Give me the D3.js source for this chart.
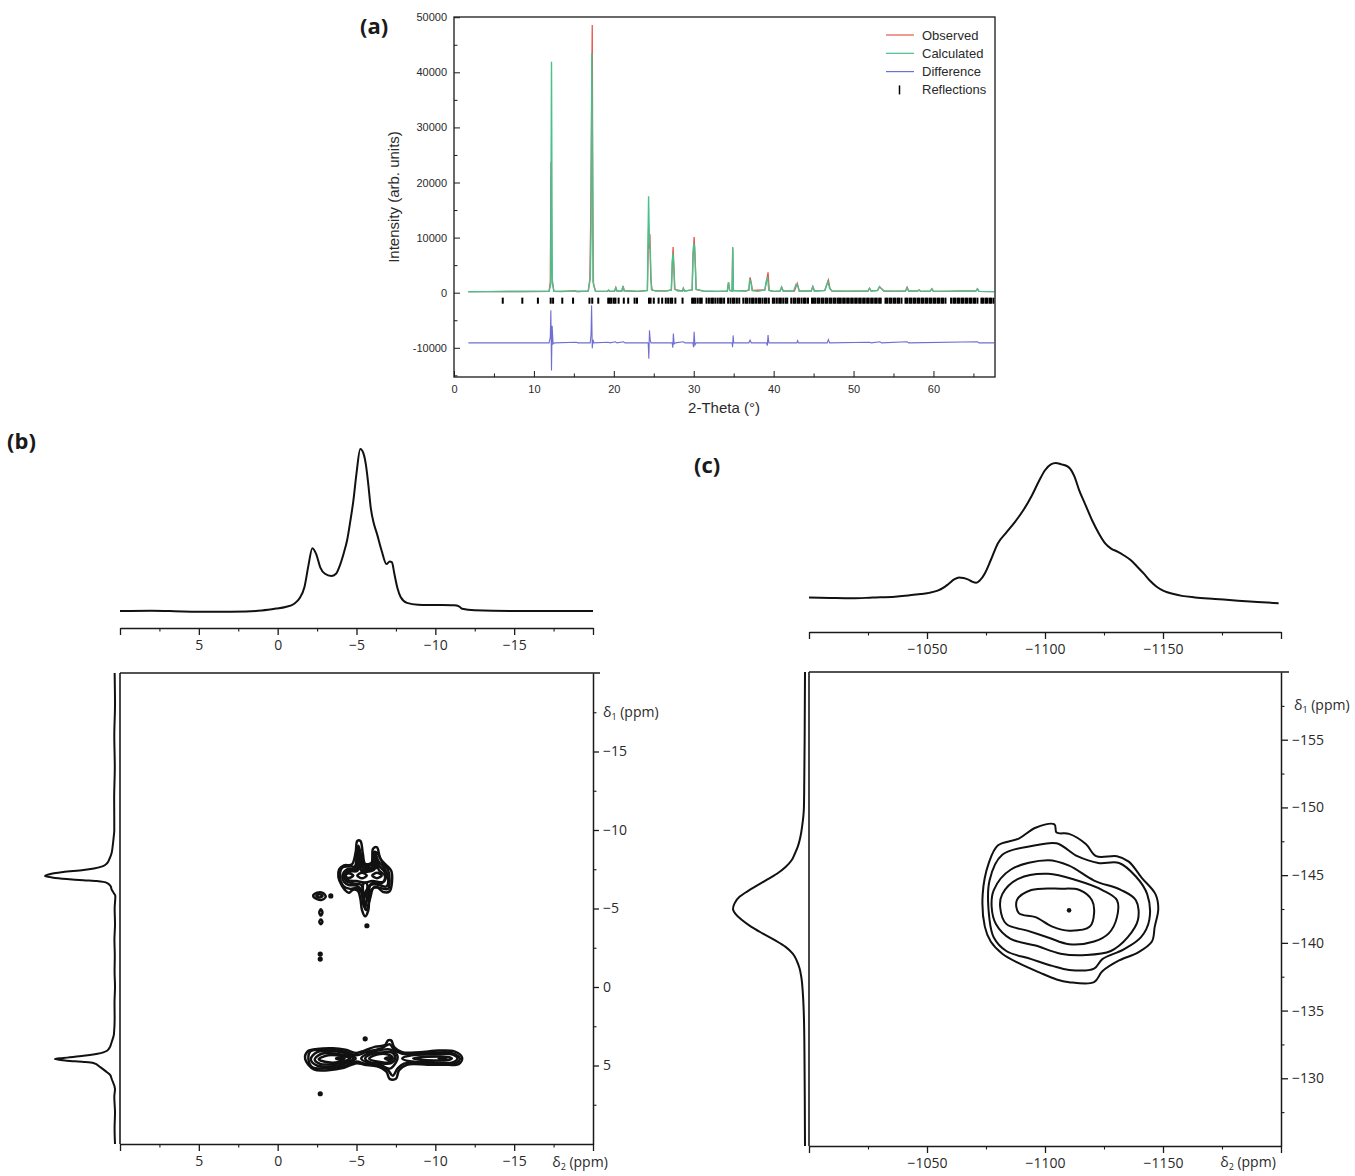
<!DOCTYPE html>
<html>
<head>
<meta charset="utf-8">
<script src="https://cdn.jsdelivr.net/npm/d3@7"></script>
<style>
body { margin: 0; background: #fff; }
svg { display: block; background: #fff; }
.axA text { font-family: "Liberation Sans", Arial, sans-serif; font-size: 11px; fill: #2a2a2a; }
.axN text { font-family: "Open Sans", sans-serif; font-size: 14px; fill: #2a2a2a; }
.ttl { font-family: "Liberation Sans", Arial, sans-serif; font-size: 15px; fill: #2a2a2a; }
.lg { font-family: "Liberation Sans", Arial, sans-serif; font-size: 13px; fill: #2a2a2a; }
.pl { font-family: "Open Sans", sans-serif; font-size: 22px; font-weight: bold; fill: #1a1a1a; }
.dl { font-family: "Open Sans", sans-serif; font-size: 14px; fill: #2a2a2a; }
</style>
</head>
<body>
<div id="chart"></div>
<script>
// ---------- (a) powder pattern: [2-theta, intensity] ----------
var xrdObs = [
  [1.8,180],[4,210],[8,220],[11.9,240],[12.05,2000],[12.14,23700],[12.24,3000],[12.5,260],
  [13.5,230],[15.2,330],[15.4,220],[16.8,300],[17.0,2500],[17.1,12600],[17.2,30000],[17.3,48600],[17.4,2000],[17.7,280],
  [19.2,250],[19.35,450],[19.5,250],[20.1,300],[20.25,950],[20.4,300],[21.0,300],[21.15,1250],[21.3,350],[23,250],
  [24.2,400],[24.35,12000],[24.45,8000],[24.52,10600],[24.62,2500],[24.8,400],[26.5,280],
  [27.2,500],[27.32,5000],[27.42,8300],[27.52,4500],[27.65,600],[28.6,300],[28.7,800],[28.85,300],
  [29.8,500],[29.92,6500],[30.05,10100],[30.15,7000],[30.3,600],[31.2,300],[33,250],
  [34.2,300],[34.35,1900],[34.5,400],[34.8,300],[34.88,8000],[34.96,400],[36.5,300],
  [36.9,500],[37.05,2800],[37.2,1800],[37.35,400],[38.9,500],[39.15,2400],[39.3,3700],[39.45,400],[40,250],
  [40.8,300],[41.0,1000],[41.2,300],[42.6,300],[42.95,1700],[43.2,300],[44.7,300],[44.9,1100],[45.1,300],
  [46.4,400],[46.6,1300],[46.85,2300],[47.05,800],[47.3,300],[51.8,300],[52.0,800],[52.2,300],[53,400],[53.25,1100],[53.5,700],[53.8,300],
  [56.5,300],[56.7,1000],[56.9,300],[58,300],[58.2,500],[58.4,250],[59.6,300],[59.8,700],[60,250],[63,300],
  [65.3,300],[65.5,700],[65.7,250],[67.6,200]
];
var xrdCalc = [
  [1.8,180],[4,200],[8,220],[11.9,240],[12.1,1500],[12.2,41900],[12.3,1800],[12.5,260],
  [13.5,230],[15.2,330],[15.4,220],[16.8,300],[17.05,2500],[17.15,11000],[17.25,43500],[17.35,20000],[17.45,1500],[17.7,280],
  [19.2,250],[19.35,450],[19.5,250],[20.1,300],[20.25,900],[20.4,300],[21.0,300],[21.15,1200],[21.3,350],[23,250],
  [24.2,400],[24.35,17500],[24.45,9000],[24.55,8000],[24.7,600],[25.2,300],[26.5,280],
  [27.2,500],[27.3,5500],[27.4,7100],[27.5,5200],[27.6,700],[28,300],[28.6,300],[28.7,800],[28.85,300],
  [29.8,500],[29.9,7000],[30.0,8900],[30.1,8300],[30.2,5000],[30.3,600],[31.2,300],[33,250],
  [34.2,300],[34.35,1900],[34.5,400],[34.8,300],[34.88,8300],[34.96,400],[36.5,300],
  [36.9,500],[37.0,2300],[37.15,2000],[37.3,400],[38,250],[38.9,500],[39.1,2200],[39.25,2600],[39.4,400],[40,250],
  [40.8,300],[41.0,1000],[41.2,300],[42.5,300],[42.8,1500],[43.0,1400],[43.2,300],[44.7,300],[44.9,1100],[45.1,300],
  [46.4,400],[46.6,1200],[46.8,2000],[47.0,800],[47.3,300],[49,250],[51.8,300],[52.0,800],[52.2,300],[53,400],[53.25,1100],[53.5,700],[53.8,300],
  [55,250],[56.5,300],[56.7,900],[56.9,300],[58,300],[58.2,500],[58.4,250],[59.6,300],[59.8,700],[60,250],[62,250],[63,300],
  [65.3,300],[65.5,700],[65.7,250],[67.6,200]
];
var xrdDiff = [
  [1.8,-9100],[11.9,-9100],[12.05,-8000],[12.12,-3200],[12.2,-14100],[12.28,-6000],[12.4,-9300],[12.6,-9100],
  [15.3,-9000],[15.5,-9100],[17.05,-9100],[17.15,-7500],[17.22,-2300],[17.3,-10100],[17.4,-8500],[17.5,-9100],
  [19.3,-9000],[19.5,-9100],[20.2,-8900],[20.4,-9100],[21.2,-8900],[21.4,-9100],
  [24.3,-9100],[24.38,-12000],[24.46,-6800],[24.55,-8500],[24.65,-9100],
  [27.3,-9100],[27.38,-10000],[27.45,-7400],[27.55,-9300],[27.7,-9100],[28.7,-8900],[28.9,-9100],
  [29.9,-9100],[29.97,-9900],[30.05,-7100],[30.15,-9500],[30.3,-9100],
  [34.8,-9100],[34.86,-9900],[34.93,-7750],[35.0,-9100],
  [36.9,-9100],[37.05,-8600],[37.2,-9100],
  [39.1,-9100],[39.2,-9600],[39.3,-7700],[39.4,-9100],
  [42.9,-9100],[43.0,-8700],[43.1,-9100],[46.7,-9100],[46.85,-8500],[47.0,-9100],
  [52,-9000],[52.2,-9100],[53.3,-8900],[53.5,-9100],[56.7,-8900],[56.9,-9100],[65.5,-8900],[65.7,-9100],[67.6,-9100]
];
var reflections = [6.1, 8.55, 10.5, 12.1, 12.4, 13.55, 14.9, 16.95, 17.3, 18.05, 19.3, 19.5, 19.7, 20.0, 20.2, 20.6,
  21.25, 21.8, 22.6, 22.9, 24.4, 24.6, 25.0, 25.6, 26.05, 26.5, 26.8, 27.1, 27.3, 27.7, 28.6, 29.8, 30.0, 30.2, 30.5,
  30.8, 31.0, 31.6, 31.9, 32.2, 32.4, 32.7, 33.0, 33.3, 33.5, 33.8, 34.3, 34.6, 34.9, 35.1, 35.4, 35.7, 36.2, 36.5,
  36.7, 37.0, 37.3, 37.5, 37.8, 38.1, 38.3, 38.6, 38.9, 39.1, 39.4, 39.9, 40.1, 40.4, 40.7, 40.9, 41.2, 41.5, 41.7,
  42.2, 42.5, 42.7, 43.0, 43.2, 43.5, 43.8, 44.0, 44.3, 44.8, 45.0, 45.2, 45.5, 45.7, 46.0, 46.2, 46.5, 46.7, 47.0,
  47.2, 47.5, 47.7, 48.0, 48.2, 48.4, 48.7, 48.9, 49.2, 49.4, 49.7, 49.9, 50.2, 50.4, 50.7, 50.9, 51.2, 51.4, 51.7,
  51.9, 52.2, 52.4, 52.7, 52.9, 53.2, 53.4, 54.0, 54.2, 54.5, 54.7, 55.0, 55.2, 55.5, 55.7, 56.0, 56.5, 56.7, 57.0,
  57.2, 57.5, 57.7, 58.0, 58.2, 58.5, 58.7, 59.0, 59.2, 59.5, 59.7, 60.0, 60.2, 60.5, 60.7, 61.0, 61.2, 61.5, 62.2,
  62.5, 62.7, 63.0, 63.2, 63.5, 63.7, 64.0, 64.2, 64.5, 64.7, 65.0, 65.2, 65.5, 66.0, 66.2, 66.5, 66.7, 67.0, 67.2, 67.5];
var reflBand = [-900, -2000];
var xTicksA = [0, 10, 20, 30, 40, 50, 60];
var xMinorA = [5, 15, 25, 35, 45, 55, 65];
var yTicksA = [-10000, 0, 10000, 20000, 30000, 40000, 50000];
var yMinorA = [-15000, -5000, 5000, 15000, 25000, 35000, 45000];
var legendNames = ["Observed", "Calculated", "Difference", "Reflections"];
var legendColors = ["#e5574b", "#49c08e", "#6f6fd2", "#111"];

// ---------- (b) 1H spectra: [ppm, intensity] ----------
var topB = [
  [10,0],[8,0.2],[6,-0.3],[4,-0.5],[2,-0.3],[1,0.3],[0.1,1.5],[-0.5,2.5],[-1.05,4.5],[-1.4,8],[-1.7,14.8],[-1.95,28],
  [-2.2,38.8],[-2.45,35],[-2.7,27],[-3.0,23],[-3.4,21.6],[-3.7,23],[-3.9,27],[-4.2,36],[-4.4,43.5],[-4.6,55],[-4.8,68],
  [-5.0,85],[-5.24,100],[-5.45,97],[-5.6,90],[-5.75,78],[-5.9,64],[-6.1,54],[-6.3,47.6],[-6.6,37],[-6.9,29],[-7.1,30.5],
  [-7.25,30],[-7.4,23],[-7.6,14],[-7.8,8.6],[-8.2,5],[-8.9,3.9],[-10,3.7],[-11.2,3.5],[-11.5,2.8],[-11.7,1.4],
  [-12.5,0.4],[-15,0],[-20,0]
];
var projB = [
  [-20,0.5],[-18,0],[-16,1],[-14,0.3],[-12,1.2],[-10,1],[-9.5,2],[-8.98,3.3],[-8.5,5],[-8.15,8],[-7.9,11],[-7.7,17],
  [-7.55,30],[-7.45,45],[-7.32,74],[-7.15,96],[-7.07,100],[-6.98,90],[-6.88,69],[-6.8,45],[-6.75,26],[-6.62,11],
  [-6.4,6],[-6.24,5],[-6.0,2],[-5.8,-0.5],[-5,0.5],[-4,0],[-3,0.8],[-2,0.3],[-1,0.6],[0,0],[1,0.7],[2,0.5],[3,1.5],
  [3.5,4.7],[3.8,7],[4.06,11.4],[4.25,25],[4.38,45],[4.52,74],[4.59,86],[4.69,69],[4.77,45],[4.84,31],[5.1,21],
  [5.41,12],[5.6,7],[5.86,4.7],[6.5,0],[7,1],[8,0],[9,0.6],[10,0]
];
// contour rings [delta2, delta1]
var contoursB = [
  [[-1.75,4.6],[-1.9,4.1],[-2.5,3.95],[-3.5,3.9],[-4.3,4.0],[-5.0,4.2],[-5.5,4.05],[-6.2,3.8],[-6.8,3.7],[-7.0,3.4],
   [-7.2,3.4],[-7.4,3.85],[-7.9,4.15],[-9.0,4.15],[-10.2,4.05],[-11.2,4.1],[-11.7,4.5],[-11.5,4.9],[-10.5,4.95],
   [-9.5,4.95],[-8.2,4.95],[-7.7,5.3],[-7.5,5.85],[-7.1,5.85],[-6.9,5.4],[-6.3,5.05],[-5.5,4.95],[-5.0,4.85],
   [-4.2,5.15],[-3.2,5.3],[-2.3,5.25]],
  [[-1.95,4.6],[-2.1,4.08],[-3.0,4.0],[-4.2,4.1],[-5.0,4.35],[-5.6,4.15],[-6.6,3.9],[-7.1,3.65],[-7.4,4.0],[-7.9,4.25],
   [-9.5,4.22],[-11.0,4.2],[-11.55,4.55],[-11.3,4.85],[-9.5,4.88],[-8.0,4.88],[-7.6,5.2],[-7.3,5.65],[-7.0,5.3],
   [-6.4,4.98],[-5.5,4.88],[-5.0,4.75],[-4.2,5.05],[-3.0,5.18],[-2.2,5.12]],
  [[-2.1,4.6],[-2.5,4.15],[-3.5,4.1],[-4.4,4.25],[-4.95,4.55],[-4.4,4.85],[-3.5,5.05],[-2.5,5.0]],
  [[-2.35,4.6],[-2.8,4.25],[-3.7,4.25],[-4.5,4.4],[-4.8,4.55],[-4.3,4.8],[-3.4,4.92],[-2.7,4.9]],
  [[-2.6,4.6],[-3.2,4.35],[-4.1,4.4],[-4.6,4.55],[-4.1,4.75],[-3.2,4.8]],
  [[-3.7,4.55],[-4.0,4.48],[-4.25,4.56],[-4.0,4.64]],
  [[-5.3,4.55],[-5.8,4.2],[-6.6,4.0],[-7.2,4.0],[-7.6,4.4],[-7.5,4.8],[-7.1,5.2],[-6.5,4.95],[-5.8,4.85]],
  [[-5.55,4.55],[-6.0,4.25],[-6.8,4.15],[-7.3,4.2],[-7.45,4.55],[-7.2,4.85],[-6.4,4.85],[-5.9,4.8]],
  [[-5.8,4.55],[-6.3,4.3],[-7.0,4.3],[-7.3,4.55],[-7.0,4.8],[-6.3,4.75]],
  [[-6.8,4.55],[-7.05,4.47],[-7.25,4.55],[-7.05,4.63]],
  [[-7.9,4.55],[-8.5,4.35],[-9.8,4.3],[-11.1,4.3],[-11.4,4.55],[-11.1,4.8],[-9.8,4.8],[-8.5,4.75]],
  [[-8.6,4.55],[-9.5,4.45],[-10.8,4.45],[-11.05,4.55],[-10.8,4.65],[-9.5,4.66]],
  [[-10.2,4.55],[-10.5,4.5],[-10.7,4.56],[-10.45,4.62]],
  [[-3.85,-7.0],[-3.9,-7.5],[-4.2,-7.75],[-4.7,-7.8],[-4.95,-8.6],[-5.05,-9.3],[-5.25,-9.3],[-5.4,-8.5],[-5.55,-7.85],
   [-5.95,-7.9],[-6.05,-8.8],[-6.3,-8.9],[-6.5,-8.2],[-6.85,-7.8],[-7.2,-7.4],[-7.25,-6.7],[-7.1,-6.1],[-6.7,-6.05],
   [-6.3,-6.35],[-5.95,-6.2],[-5.8,-5.5],[-5.75,-4.9],[-5.55,-4.5],[-5.35,-4.9],[-5.25,-5.6],[-5.1,-6.1],[-4.8,-6.2],
   [-4.5,-6.0],[-4.25,-6.2],[-4.05,-6.5]],
  [[-3.95,-7.02],[-4.1,-7.6],[-4.5,-7.68],[-4.95,-7.7],[-5.0,-8.5],[-5.12,-9.0],[-5.3,-8.3],[-5.5,-7.75],[-5.95,-7.78],
   [-6.1,-8.6],[-6.35,-8.5],[-6.65,-7.9],[-7.0,-7.45],[-7.1,-6.8],[-7.0,-6.25],[-6.5,-6.3],[-6.1,-6.35],[-5.85,-5.6],
   [-5.62,-4.9],[-5.42,-5.3],[-5.3,-6.05],[-5.0,-6.3],[-4.6,-6.25],[-4.15,-6.45]],
  [[-4.1,-7.05],[-4.4,-7.5],[-4.85,-7.55],[-5.05,-8.4],[-5.2,-8.7],[-5.3,-8.0],[-5.5,-7.6],[-6.0,-7.65],[-6.2,-8.4],
   [-6.4,-8.0],[-6.8,-7.5],[-7.0,-7.0],[-6.9,-6.4],[-6.4,-6.5],[-5.9,-6.5],[-5.7,-5.6],[-5.5,-5.3],[-5.4,-6.0],
   [-5.0,-6.45],[-4.5,-6.5],[-4.2,-6.7]],
  [[-4.2,-7.05],[-4.5,-7.42],[-4.95,-7.48],[-5.12,-8.3],[-5.25,-8.35],[-5.4,-7.5],[-6.05,-7.55],[-6.22,-8.15],
   [-6.45,-7.7],[-6.8,-7.3],[-6.85,-6.9],[-6.6,-6.6],[-6.0,-6.62],[-5.6,-6.1],[-5.48,-5.6],[-5.3,-6.5],[-4.8,-6.6],
   [-4.35,-6.75]],
  [[-4.3,-7.05],[-4.6,-7.35],[-5.05,-7.4],[-5.2,-8.1],[-5.3,-7.4],[-6.1,-7.45],[-6.25,-7.9],[-6.45,-7.4],[-6.8,-7.1],
   [-6.7,-6.7],[-6.0,-6.75],[-5.5,-6.65],[-5.0,-6.75],[-4.5,-6.8]],
  [[-4.25,-7.1],[-4.5,-7.25],[-4.8,-7.1],[-4.5,-6.95]],
  [[-5.05,-7.1],[-5.35,-7.28],[-5.65,-7.1],[-5.35,-6.92]],
  [[-6.0,-7.1],[-6.3,-7.27],[-6.6,-7.1],[-6.3,-6.93]],
  [[-5.1,-7.6],[-5.15,-8.9],[-5.2,-7.6]],
  [[-6.1,-7.6],[-6.2,-8.6],[-6.3,-7.6]],
  [[-5.45,-6.6],[-5.55,-5.0],[-5.65,-6.6]],
  [[-2.25,-5.8],[-2.5,-5.6],[-2.8,-5.55],[-3.05,-5.75],[-2.85,-6.0],[-2.5,-6.0]],
  [[-2.45,-5.8],[-2.65,-5.7],[-2.85,-5.8],[-2.65,-5.9]],
  [[-2.64,-4.75],[-2.74,-4.95],[-2.84,-4.75],[-2.74,-4.55]],
  [[-2.64,-4.15],[-2.74,-4.3],[-2.84,-4.15],[-2.74,-4.0]]
];
var dotsB = [[-3.37,-5.8],[-2.7,-2.1],[-2.7,-1.78],[-5.66,-3.9],[-5.55,3.3],[-2.7,6.8]];
var majorB = [10, 5, 0, -5, -10, -15, -20];
var minorB = [7.5, 2.5, -2.5, -7.5, -12.5, -17.5];
var rightMajorB = [-15, -10, -5, 0, 5];
var rightMinorB = [-17.5, -12.5, -7.5, -2.5, 2.5, 7.5];

// ---------- (c) 29Si spectra ----------
var topC = [
  [-1000,1.9],[-1009,1.5],[-1018.2,1.2],[-1027,1.8],[-1036.4,2.4],[-1042,3.2],[-1047.3,4.4],[-1051,5.2],[-1054.5,6.8],
  [-1057,9],[-1059.1,11.7],[-1061.5,15],[-1063.6,16.5],[-1065.5,16],[-1067.3,15],[-1069,13.5],[-1070.9,12.6],
  [-1072.5,14.5],[-1074.5,19.4],[-1077,29],[-1080,41.3],[-1083.5,49],[-1087.3,57],[-1091,66],[-1094.5,76.5],
  [-1097.5,87],[-1100,94.7],[-1102.5,99],[-1104.5,100],[-1107,99],[-1110,97],[-1112.5,90],[-1114.5,80],[-1117,70],
  [-1120,58],[-1123,48],[-1125.5,41.3],[-1128,37.5],[-1130.9,35.2],[-1133.5,32.5],[-1136.4,29],[-1139,24.5],
  [-1141.8,19.4],[-1144.5,14],[-1147.3,9.7],[-1150.5,6.5],[-1154.5,4.4],[-1158,3],[-1163.6,1.9],[-1172,0.8],
  [-1181.8,-0.5],[-1190,-1.4],[-1199,-2.4]
];
var projC = [
  [-160,0],[-157,0.3],[-155,0.5],[-152,1],[-150,1.5],[-148.6,4],[-147.8,6.5],[-147.1,10],[-146.6,14],[-146.1,18.6],
  [-145.6,27],[-145.1,39],[-144.6,55],[-144.1,71],[-143.7,83],[-143.4,91],[-142.9,98],[-142.5,100],[-142.1,96],
  [-141.7,88],[-141.2,75],[-140.7,59],[-140.2,42],[-139.7,27],[-139.2,17],[-138.7,11.6],[-138.1,7.5],[-137.5,5.2],
  [-136.2,2.9],[-135,1.8],[-133.8,1.2],[-130,0.5],[-125,0]
];
var contoursC = [
  [[-1088.1,-143.15],[-1094.2,-143.9],[-1106.6,-144.0],[-1114.6,-143.9],[-1119.9,-143.15],[-1120.8,-142.2],
   [-1119,-141.2],[-1110.2,-140.9],[-1103.1,-141.2],[-1096,-141.9],[-1088.9,-142.2]],
  [[-1081.9,-143.6],[-1088.9,-144.75],[-1101.3,-145.1],[-1113.7,-144.6],[-1124.3,-143.9],[-1130.5,-143.15],
   [-1130.5,-141.9],[-1127,-140.7],[-1120.8,-140.1],[-1110.2,-139.9],[-1101.3,-140.4],[-1092.5,-140.9],
   [-1083.6,-141.4],[-1081,-142.65]],
  [[-1078.3,-143.9],[-1085.4,-145.4],[-1101.3,-146.1],[-1110.2,-145.7],[-1120.8,-144.6],[-1132.3,-143.9],
   [-1138.5,-143.15],[-1139.4,-141.7],[-1135,-140.4],[-1127.9,-139.4],[-1117.3,-139.1],[-1106.6,-139.2],
   [-1096,-139.8],[-1085.4,-140.3],[-1079.2,-141.4],[-1077.4,-142.65]],
  [[-1076.5,-144.6],[-1081.9,-146.5],[-1096,-147.2],[-1104.9,-147.35],[-1113.7,-146.4],[-1122.6,-145.9],
   [-1131.4,-145.9],[-1138.5,-144.9],[-1143.3,-143.6],[-1144.2,-141.7],[-1140.6,-140.4],[-1133.2,-139.5],
   [-1124.3,-138.8],[-1120.8,-138.1],[-1110.2,-138],[-1103.1,-138.3],[-1094.2,-138.8],[-1083.6,-139.4],
   [-1078.3,-140.4],[-1076.5,-141.7]],
  [[-1073.6,-143.6],[-1076.2,-145.9],[-1080.1,-147.2],[-1088.9,-147.7],[-1096,-148.5],[-1104,-148.75],
   [-1104.9,-148.15],[-1110.2,-148.05],[-1117.3,-147.3],[-1121.7,-146.4],[-1130.5,-146.4],[-1135.5,-146],
   [-1141,-144.8],[-1146.8,-143.6],[-1148,-142.5],[-1146.5,-141.2],[-1145.3,-140.1],[-1139.5,-139.3],
   [-1131.4,-138.7],[-1124.3,-137.9],[-1120.8,-137.1],[-1110.2,-137.1],[-1104.9,-137.3],[-1097.8,-137.8],
   [-1088.9,-138.5],[-1081.9,-139.2],[-1077,-140.1],[-1074.5,-141.2]]
];
var dotsC = [[-1110.2,-142.4]];
var majorC = [-1000, -1050, -1100, -1150, -1200];
var minorC = [-1025, -1075, -1125, -1175];
var rightMajorC = [-155, -150, -145, -140, -135, -130];
var rightMinorC = [-157.5, -152.5, -147.5, -142.5, -137.5, -132.5, -127.5];

var svg = d3.select("#chart").append("svg")
    .attr("width", 1355)
    .attr("height", 1176);

var ink = "#1a1a1a";
var minus = function(d) { return String(d).replace("-", "\u2212"); };

// ======================= panel (a) =======================
var xA = d3.scaleLinear().domain([0, 67.7]).range([454, 995]);
var yA = d3.scaleLinear().domain([-15300, 50040]).range([377, 17]);
var gA = svg.append("g");

gA.append("path").datum(xrdObs)
    .attr("fill", "none").attr("stroke", legendColors[0]).attr("stroke-width", 1.3)
    .attr("d", d3.line().x(function(d) { return xA(d[0]); }).y(function(d) { return yA(d[1]); }));
gA.append("path").datum(xrdCalc)
    .attr("fill", "none").attr("stroke", legendColors[1]).attr("stroke-width", 1.4)
    .attr("d", d3.line().x(function(d) { return xA(d[0]); }).y(function(d) { return yA(d[1]); }));
gA.append("path").datum(xrdDiff)
    .attr("fill", "none").attr("stroke", legendColors[2]).attr("stroke-width", 1.1)
    .attr("d", d3.line().x(function(d) { return xA(d[0]); }).y(function(d) { return yA(d[1]); }));
gA.append("g").selectAll("line").data(reflections).enter().append("line")
    .attr("x1", function(d) { return xA(d); }).attr("x2", function(d) { return xA(d); })
    .attr("y1", yA(reflBand[0])).attr("y2", yA(reflBand[1]))
    .attr("stroke", "#000").attr("stroke-width", 2);

gA.append("rect")
    .attr("x", xA(0)).attr("y", yA.range()[1])
    .attr("width", xA.range()[1] - xA(0)).attr("height", yA.range()[0] - yA.range()[1])
    .attr("fill", "none").attr("stroke", ink).attr("stroke-width", 1.3);

gA.append("g").attr("class", "axA").attr("color", ink)
    .attr("transform", "translate(0," + yA.range()[0] + ")")
    .call(d3.axisBottom(xA).tickValues(xTicksA).tickSize(-6).tickPadding(8).tickFormat(d3.format("d")))
    .call(function(g) { g.select(".domain").remove(); });
gA.append("g").attr("color", ink)
    .attr("transform", "translate(0," + yA.range()[0] + ")")
    .call(d3.axisBottom(xA).tickValues(xMinorA).tickSize(-3.5).tickFormat(""))
    .call(function(g) { g.select(".domain").remove(); });
gA.append("g").attr("class", "axA").attr("color", ink)
    .attr("transform", "translate(" + xA(0) + ",0)")
    .call(d3.axisLeft(yA).tickValues(yTicksA).tickSize(-6).tickPadding(7).tickFormat(function(d) { return String(d); }))
    .call(function(g) { g.select(".domain").remove(); });
gA.append("g").attr("color", ink)
    .attr("transform", "translate(" + xA(0) + ",0)")
    .call(d3.axisLeft(yA).tickValues(yMinorA).tickSize(-3.5).tickFormat(""))
    .call(function(g) { g.select(".domain").remove(); });

gA.append("text").attr("class", "ttl")
    .attr("transform", "translate(399,197) rotate(-90)")
    .attr("text-anchor", "middle")
    .text("Intensity (arb. units)");
gA.append("text").attr("class", "ttl")
    .attr("x", 724).attr("y", 413)
    .attr("text-anchor", "middle")
    .text("2-Theta (\u00b0)");
gA.append("text").attr("class", "pl").attr("x", 360).attr("y", 34).text("(a)");

var lg = gA.append("g").selectAll("g").data(legendNames).enter().append("g")
    .attr("transform", function(d, i) { return "translate(0," + (35 + i * 18.3) + ")"; });
lg.filter(function(d, i) { return i < 3; }).append("line")
    .attr("x1", 886).attr("x2", 914).attr("y1", 0).attr("y2", 0)
    .attr("stroke", function(d, i) { return legendColors[i]; }).attr("stroke-width", 1.2);
lg.filter(function(d, i) { return i === 3; }).append("line")
    .attr("x1", 899.5).attr("x2", 899.5).attr("y1", -4.5).attr("y2", 4.5)
    .attr("stroke", "#000").attr("stroke-width", 1.5);
lg.append("text").attr("class", "lg")
    .attr("x", 922).attr("y", 0).attr("dy", "0.35em")
    .text(function(d) { return d; });

// ======================= helpers for NMR panels =======================
function nmrAxis(g, scale, major, minor, labelled, orient, len) {
    var mk = orient === "right" ? d3.axisRight : d3.axisBottom;
    g.append("g").attr("class", "axN").attr("color", ink)
        .call(mk(scale).tickValues(major).tickSize(len).tickSizeOuter(0).tickPadding(orient === "right" ? 4 : 5)
            .tickFormat(function(d) { return labelled.indexOf(d) >= 0 ? minus(d) : ""; }))
        .call(function(s) { s.select(".domain").attr("stroke-width", 1.5); s.selectAll(".tick line").attr("stroke-width", 1.3); });
    g.append("g").attr("color", ink)
        .call(mk(scale).tickValues(minor).tickSize(3.5).tickSizeOuter(0).tickFormat(""))
        .call(function(s) { s.select(".domain").remove(); s.selectAll(".tick line").attr("stroke-width", 1.1); });
}
function deltaLabel(g, x, y, anchor, sub) {
    var t = g.append("text").attr("class", "dl").attr("x", x).attr("y", y).attr("text-anchor", anchor);
    t.append("tspan").text("\u03b4");
    t.append("tspan").attr("font-size", "9px").attr("dy", 3).text(sub);
    t.append("tspan").attr("dy", -3).text(" (ppm)");
}

// ======================= panel (b) =======================
var xB = d3.scaleLinear().domain([10, -20]).range([120, 593]);
var yB = d3.scaleLinear().domain([10, -20]).range([1144, 673]);
var yBt = d3.scaleLinear().domain([0, 100]).range([611, 449]);
var xBl = d3.scaleLinear().domain([0, 100]).range([115, 45]);
var gB = svg.append("g");

gB.append("text").attr("class", "pl").attr("x", 7).attr("y", 449).text("(b)");

gB.append("path").datum(topB)
    .attr("fill", "none").attr("stroke", "#111").attr("stroke-width", 2)
    .attr("d", d3.line().x(function(d) { return xB(d[0]); }).y(function(d) { return yBt(d[1]); }).curve(d3.curveMonotoneX));
nmrAxis(gB.append("g").attr("transform", "translate(0,628)"), xB, majorB, minorB, [5, 0, -5, -10, -15], "bottom", 7);

gB.append("path").datum(projB)
    .attr("fill", "none").attr("stroke", "#111").attr("stroke-width", 2)
    .attr("d", d3.line().x(function(d) { return xBl(d[1]); }).y(function(d) { return yB(d[0]); }).curve(d3.curveMonotoneY));

// frame: left and top edges
gB.append("line").attr("x1", xB(10)).attr("x2", xB(10)).attr("y1", yB(-20)).attr("y2", yB(10))
    .attr("stroke", ink).attr("stroke-width", 1.6);
gB.append("line").attr("x1", xB(10)).attr("x2", xB(-20) + 7).attr("y1", yB(-20)).attr("y2", yB(-20))
    .attr("stroke", ink).attr("stroke-width", 1.6);
nmrAxis(gB.append("g").attr("transform", "translate(0," + yB(10) + ")"), xB, majorB, minorB, [5, 0, -5, -10, -15], "bottom", 7);
nmrAxis(gB.append("g").attr("transform", "translate(" + xB(-20) + ",0)"), yB, rightMajorB, rightMinorB, rightMajorB, "right", 6);
deltaLabel(gB, xB(-20) + 10, yB(-17.5) + 5, "start", "1");
deltaLabel(gB, 580, 1167, "middle", "2");

gB.append("g").selectAll("path").data(contoursB).enter().append("path")
    .attr("fill", "none").attr("stroke", "#111").attr("stroke-width", 2.5)
    .attr("d", d3.line().x(function(d) { return xB(d[0]); }).y(function(d) { return yB(d[1]); }).curve(d3.curveCatmullRomClosed.alpha(0.5)));
gB.append("g").selectAll("circle").data(dotsB).enter().append("circle")
    .attr("cx", function(d) { return xB(d[0]); }).attr("cy", function(d) { return yB(d[1]); })
    .attr("r", 2.6).attr("fill", "#111");

// ======================= panel (c) =======================
var xC = d3.scaleLinear().domain([-1000, -1200]).range([809, 1281]);
var yC = d3.scaleLinear().domain([-125, -160]).range([1146, 672]);
var yCt = d3.scaleLinear().domain([0, 100]).range([600, 463]);
var xCl = d3.scaleLinear().domain([0, 100]).range([805, 733]);
var gC = svg.append("g");

gC.append("text").attr("class", "pl").attr("x", 694).attr("y", 473).text("(c)");

gC.append("path").datum(topC)
    .attr("fill", "none").attr("stroke", "#111").attr("stroke-width", 2)
    .attr("d", d3.line().x(function(d) { return xC(d[0]); }).y(function(d) { return yCt(d[1]); }).curve(d3.curveMonotoneX));
nmrAxis(gC.append("g").attr("transform", "translate(0,632)"), xC, majorC, minorC, [-1050, -1100, -1150], "bottom", 7);

gC.append("path").datum(projC)
    .attr("fill", "none").attr("stroke", "#111").attr("stroke-width", 2)
    .attr("d", d3.line().x(function(d) { return xCl(d[1]); }).y(function(d) { return yC(d[0]); }).curve(d3.curveMonotoneY));

gC.append("line").attr("x1", xC(-1000)).attr("x2", xC(-1000)).attr("y1", yC(-160)).attr("y2", yC(-125))
    .attr("stroke", ink).attr("stroke-width", 1.6);
gC.append("line").attr("x1", xC(-1000)).attr("x2", xC(-1200) + 8).attr("y1", yC(-160)).attr("y2", yC(-160))
    .attr("stroke", ink).attr("stroke-width", 1.6);
nmrAxis(gC.append("g").attr("transform", "translate(0," + yC(-125) + ")"), xC, majorC, minorC, [-1050, -1100, -1150], "bottom", 7);
nmrAxis(gC.append("g").attr("transform", "translate(" + xC(-1200) + ",0)"), yC, rightMajorC, rightMinorC, rightMajorC, "right", 7);
deltaLabel(gC, xC(-1200) + 13, yC(-157.6) + 5, "start", "1");
deltaLabel(gC, 1248, 1167, "middle", "2");

gC.append("g").selectAll("path").data(contoursC).enter().append("path")
    .attr("fill", "none").attr("stroke", "#111").attr("stroke-width", 2)
    .attr("d", d3.line().x(function(d) { return xC(d[0]); }).y(function(d) { return yC(d[1]); }).curve(d3.curveCatmullRomClosed.alpha(0.5)));
gC.append("g").selectAll("circle").data(dotsC).enter().append("circle")
    .attr("cx", function(d) { return xC(d[0]); }).attr("cy", function(d) { return yC(d[1]); })
    .attr("r", 2.3).attr("fill", "#111");
</script>
</body>
</html>
